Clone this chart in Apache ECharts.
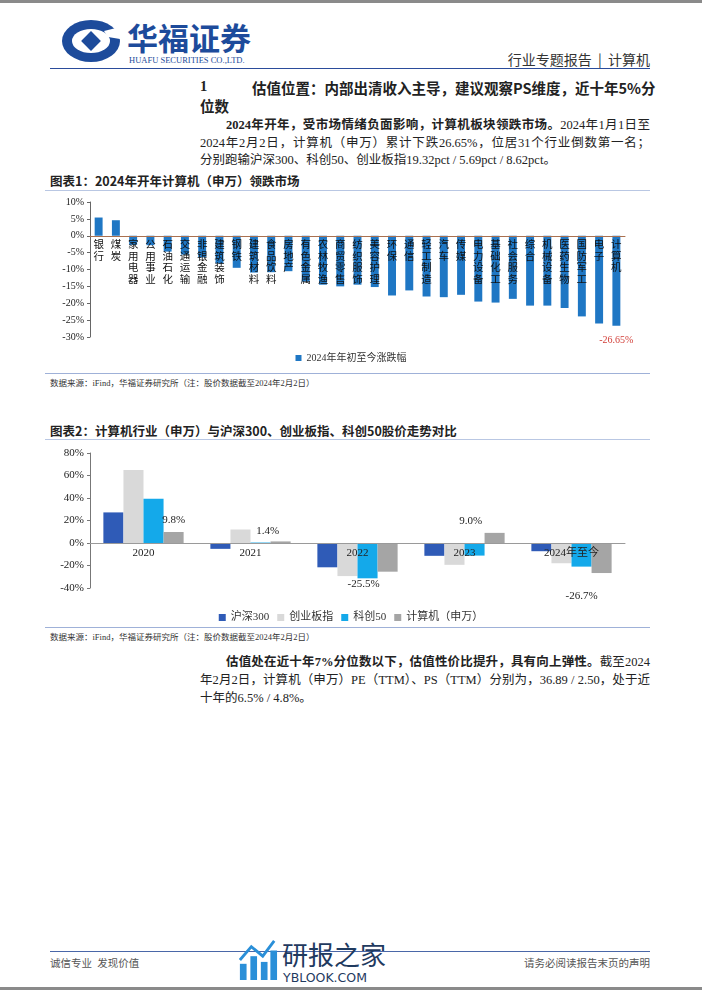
<!DOCTYPE html>
<html>
<head>
<meta charset="utf-8">
<script src="https://cdn.jsdelivr.net/npm/echarts@6/dist/echarts.min.js"></script>
<style>
body{margin:0;background:#fff;}
#page{position:relative;width:702px;height:991px;overflow:hidden;background:#fff;
  font-family:'Liberation Serif','Noto Sans CJK SC',serif;color:#222;}
.abs{position:absolute;white-space:nowrap;}
.hr{position:absolute;height:0;}
.jl{text-align:justify;text-align-last:justify;white-space:nowrap;}
</style>
</head>
<body>
<div id="page">
  <div class="hr" style="left:0;top:0;width:702px;border-top:3px solid #8a8a8a;"></div>
  <div class="hr" style="left:0;top:987px;width:702px;border-top:3px solid #8a8a8a;"></div>

  <!-- logo -->
  <svg class="abs" style="left:60px;top:17px;" width="66" height="48" viewBox="0 0 66 48">
    <ellipse cx="31" cy="24" rx="29" ry="21" fill="#1d4b9b"/>
    <ellipse cx="31" cy="24" rx="19" ry="12" fill="#fff"/>
    <rect x="24" y="17" width="14" height="14" fill="#1d4b9b" transform="rotate(45 31 24)"/>
    <path d="M44 14 L60 10 L60 22 L48 20 Z" fill="#fff"/>
  </svg>
  <div class="abs" style="left:127px;top:14px;font-size:31px;font-weight:bold;color:#1d4b9b;font-family:'Noto Sans CJK SC';">华福证券</div>
  <div class="abs" style="left:129px;top:55px;font-size:8.5px;color:#1d4b9b;">HUAFU SECURITIES CO.,LTD.</div>
  <div class="abs" style="right:52px;top:49px;font-size:14px;color:#333;font-family:'Noto Sans CJK SC';">行业专题报告 &nbsp;|&nbsp; 计算机</div>
  <div class="hr" style="left:50px;top:68px;width:600px;border-top:1.5px solid #2b4c9b;"></div>

  <!-- section heading -->
  <div class="abs" style="left:200px;top:78px;font-size:14.5px;font-weight:bold;">1</div>
  <div class="abs jl" style="left:252px;top:77px;width:398px;font-size:14.5px;font-weight:bold;font-family:'Noto Sans CJK SC';">估值位置：内部出清收入主导，建议观察PS维度，近十年5%分</div>
  <div class="abs" style="left:200px;top:95px;font-size:14.5px;font-weight:bold;font-family:'Noto Sans CJK SC';">位数</div>

  <div class="abs jl" style="left:226px;top:114px;width:424px;font-size:12.5px;"><b>2024年开年，受市场情绪负面影响，计算机板块领跌市场。</b>2024年1月1日至</div>
  <div class="abs jl" style="left:200px;top:132px;width:450px;font-size:12.5px;">2024年2月2日，计算机（申万）累计下跌26.65%，位居31个行业倒数第一名；</div>
  <div class="abs" style="left:200px;top:149px;font-size:12.5px;">分别跑输沪深300、科创50、创业板指19.32pct / 5.69pct / 8.62pct。</div>

  <!-- chart 1 -->
  <div class="abs" style="left:50px;top:171px;font-size:12.5px;font-weight:bold;font-family:'Noto Sans CJK SC';">图表1：2024年开年计算机（申万）领跌市场</div>
  <div class="hr" style="left:45px;top:190px;width:605px;border-top:1px solid #b9c7e3;"></div>
  <div id="chart1" class="abs" style="left:0;top:190px;width:702px;height:182px;"></div>
  <div class="hr" style="left:45px;top:373px;width:605px;border-top:1px solid #9fb1d8;"></div>
  <div class="abs" style="left:50px;top:376px;font-size:8.5px;color:#333;">数据来源：iFind，华福证券研究所（注：股价数据截至2024年2月2日）</div>

  <!-- chart 2 -->
  <div class="abs" style="left:50px;top:421px;font-size:12.5px;font-weight:bold;font-family:'Noto Sans CJK SC';">图表2：计算机行业（申万）与沪深300、创业板指、科创50股价走势对比</div>
  <div class="hr" style="left:45px;top:439px;width:605px;border-top:1px solid #b9c7e3;"></div>
  <div id="chart2" class="abs" style="left:0;top:440px;width:702px;height:186px;"></div>
  <div class="hr" style="left:45px;top:627px;width:605px;border-top:1px solid #9fb1d8;"></div>
  <div class="abs" style="left:50px;top:630px;font-size:8.5px;color:#333;">数据来源：iFind，华福证券研究所（注：股价数据截至2024年2月2日）</div>

  <div class="abs jl" style="left:226px;top:651px;width:424px;font-size:12.5px;"><b>估值处在近十年7%分位数以下，估值性价比提升，具有向上弹性。</b>截至2024</div>
  <div class="abs jl" style="left:200px;top:669px;width:450px;font-size:12.5px;">年2月2日，计算机（申万）PE（TTM）、PS（TTM）分别为，36.89 / 2.50，处于近</div>
  <div class="abs" style="left:200px;top:687px;font-size:12.5px;">十年的6.5% / 4.8%。</div>

  <!-- footer -->
  <div class="hr" style="left:50px;top:951px;width:600px;border-top:1px solid #4a67a8;"></div>
  <div class="abs" style="left:50px;top:955px;font-size:10.5px;color:#555;">诚信专业 &nbsp;发现价值</div>
  <div class="abs" style="right:52px;top:955px;font-size:10.5px;color:#555;">请务必阅读报告末页的声明</div>
  <svg class="abs" style="left:238px;top:939px;" width="40" height="42" viewBox="0 0 42 44">
    <rect x="2" y="26" width="7" height="17" fill="#2a8fd8"/>
    <rect x="13" y="18" width="7" height="25" fill="#2a8fd8"/>
    <rect x="24" y="24" width="7" height="19" fill="#2a8fd8"/>
    <rect x="34" y="12" width="7" height="31" fill="#2a8fd8"/>
    <path d="M2 22 L14 8 L26 18 L38 2" stroke="#2a8fd8" stroke-width="3" fill="none"/>
  </svg>
  <div class="abs" style="left:282px;top:935px;font-size:26px;color:#1f3a5f;font-family:'Noto Sans CJK SC';">研报之家</div>
  <div class="abs" style="left:283px;top:970px;font-size:12.5px;color:#1f3a5f;font-family:'DejaVu Sans';">YBLOOK.COM</div>
</div>

<script>
// 图表1：2024年年初至今各行业涨跌幅（%）
var industryNames = ['银行','煤炭','家用电器','公用事业','石油石化','交通运输','非银金融','建筑装饰','钢铁','建筑材料',
    '食品饮料','房地产','有色金属','农林牧渔','商贸零售','纺织服饰','美容护理','环保','通信','轻工制造',
    '汽车','传媒','电力设备','基础化工','社会服务','综合','机械设备','医药生物','国防军工','电子','计算机'];
var industryChange = [5.4, 4.6, -2.7, -2.8, -4.7, -5.6, -6.4, -8.2, -9.5, -10.9,
    -10.8, -10.5, -13.6, -14.5, -15.0, -14.5, -15.2, -17.7, -16.2, -18.0,
    -18.2, -17.5, -19.5, -19.8, -18.7, -20.7, -20.7, -21.4, -23.9, -26.0, -26.65];
var chart1Ticks = [-30, 10, 5];

// 图表2：年度涨跌幅（%）
var periodLabels = ['2020','2021','2022','2023','2024年至今'];
var hs300 = [27.2, -5.2, -21.6, -11.4, -7.3];
var chinext = [65.0, 12.0, -29.4, -19.4, -18.0];
var star50 = [39.3, 0.4, -31.4, -11.2, -21.0];
var computerSW = [9.8, 1.4, -25.5, 9.0, -26.7];
var chart2Ticks = [-40, 80, 20];

var serifFont = "'Liberation Serif', 'Noto Sans CJK SC', serif";

function pct(v){ return v + '%'; }

// 类目标签放在0轴下方：按网格高度算出0轴到底边的距离
function zeroMargin(gridH, ticks, gap){
    return gap - gridH * (0 - ticks[0]) / (ticks[1] - ticks[0]);
}

function fillChart1(){
    var myChart = echarts.init(document.getElementById('chart1'));
    var grid = {left: 90, right: 77, top: 12, bottom: 35};
    var gridH = 182 - grid.top - grid.bottom;
    var lastIdx = industryChange.length - 1;
    var data = [];
    for(var i = 0;i<industryChange.length;i++){
        var item = {value: industryChange[i]};
        if(i == lastIdx){
            item.label = {
                show: true, position: 'bottom', distance: 10,
                color: '#d2403a', fontSize: 10, fontFamily: serifFont,
                formatter: function(p){ return p.value.toFixed(2) + '%'; }
            };
        }
        data.push(item);
    }
    myChart.setOption({
        animation: false,
        grid: grid,
        legend: {
            data: ['2024年年初至今涨跌幅'], bottom: 9, left: 'center', padding: 0,
            itemWidth: 6, itemHeight: 6, icon: 'rect',
            textStyle: {fontSize: 10, color: '#333', fontFamily: serifFont}
        },
        xAxis: {
            type: 'category', data: industryNames, z: 10,
            axisLine: {lineStyle: {color: '#a9704f', width: 1}},
            axisTick: {inside: true, length: 3, lineStyle: {color: '#a9704f'}},
            axisLabel: {
                interval: 0, margin: zeroMargin(gridH, chart1Ticks, 3), fontSize: 10.5, lineHeight: 11.5, color: '#111',
                fontFamily: "'Noto Sans CJK SC'", verticalAlign: 'top',
                formatter: function(v){ return v.split('').join('\n'); }
            }
        },
        yAxis: {
            type: 'value', min: chart1Ticks[0], max: chart1Ticks[1], interval: chart1Ticks[2],
            axisLine: {show: true, lineStyle: {color: '#666'}},
            axisTick: {show: true, length: 3, lineStyle: {color: '#666'}},
            splitLine: {show: false},
            axisLabel: {formatter: pct, fontSize: 10, color: '#222', margin: 6, fontFamily: serifFont}
        },
        series: [{
            name: '2024年年初至今涨跌幅', type: 'bar', data: data,
            barWidth: '46%', itemStyle: {color: '#1f77c4'}
        }]
    });
}

function fillChart2(){
    var myChart = echarts.init(document.getElementById('chart2'));
    var grid = {left: 90, right: 77, top: 13, bottom: 38};
    var gridH = 186 - grid.top - grid.bottom;
    // 计算机标签的位置微调
    var labelShift = [[0, -1], [-13, 0], [-24, 2], [-24, -1], [-20, 13]];
    var compData = [];
    for(var i = 0;i<computerSW.length;i++){
        compData.push({
            value: computerSW[i],
            label: {
                show: true, position: computerSW[i] >= 0 ? 'top' : 'bottom',
                distance: 5, offset: labelShift[i],
                color: '#222', fontSize: 11, fontFamily: serifFont,
                formatter: function(p){ return p.value.toFixed(1) + '%'; }
            }
        });
    }
    myChart.setOption({
        animation: false,
        grid: grid,
        legend: {
            data: ['沪深300','创业板指','科创50','计算机（申万）'], bottom: 3, left: 'center', padding: 0,
            itemWidth: 7, itemHeight: 7, icon: 'rect', itemGap: 8,
            textStyle: {fontSize: 11, color: '#333', fontFamily: serifFont}
        },
        xAxis: {
            type: 'category', data: periodLabels, z: 10,
            axisLine: {lineStyle: {color: '#9a9a9a'}},
            axisTick: {length: 4, lineStyle: {color: '#9a9a9a'}},
            axisLabel: {margin: zeroMargin(gridH, chart2Ticks, 5), verticalAlign: 'top', fontSize: 11, color: '#222', fontFamily: serifFont}
        },
        yAxis: {
            type: 'value', min: chart2Ticks[0], max: chart2Ticks[1], interval: chart2Ticks[2],
            axisLine: {show: true, lineStyle: {color: '#777'}},
            axisTick: {show: true, length: 3, lineStyle: {color: '#777'}},
            splitLine: {show: false},
            axisLabel: {formatter: pct, fontSize: 11, color: '#222', margin: 6, fontFamily: serifFont}
        },
        series: [
            {name: '沪深300', type: 'bar', data: hs300, barGap: '0%', barCategoryGap: '25%', itemStyle: {color: '#2f5bb7'}},
            {name: '创业板指', type: 'bar', data: chinext, itemStyle: {color: '#d9d9d9'}},
            {name: '科创50', type: 'bar', data: star50, itemStyle: {color: '#14a9ea'}},
            {name: '计算机（申万）', type: 'bar', data: compData, itemStyle: {color: '#a5a5a5'}}
        ]
    });
}

fillChart1();
fillChart2();
</script>
</body>
</html>
